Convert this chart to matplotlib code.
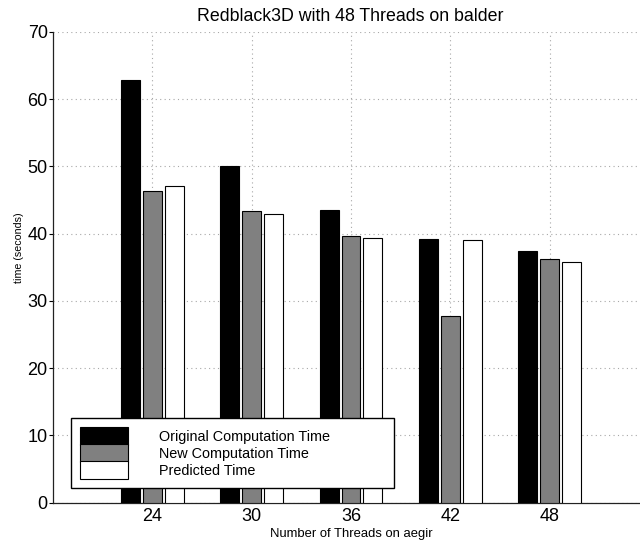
import numpy as np
import matplotlib
matplotlib.use("Agg")
import matplotlib.pyplot as plt

# data
threads = ["24", "30", "36", "42", "48"]
original_time = [62.9, 50.1, 43.5, 39.2, 37.4]
new_time = [46.3, 43.4, 39.7, 27.8, 36.2]
predicted_time = [47.1, 42.9, 39.4, 39.1, 35.8]
series_names = ["Original Computation Time", "New Computation Time", "Predicted Time"]
y_ticks = [0, 10, 20, 30, 40, 50, 60, 70]

plt.rcParams["font.family"] = ["Liberation Sans", "DejaVu Sans"]

W, H = 640, 546
fig = plt.figure(figsize=(W / 100, H / 100), dpi=100)

# axes in pixel terms (right edge runs off the figure like the original)
ax_l, ax_r, ax_t, ax_b = 53, 649, 32, 502.5
ax = fig.add_axes([ax_l / W, 1 - ax_b / H, (ax_r - ax_l) / W, (ax_b - ax_t) / H])

x = np.arange(1, len(threads) + 1)
width = 0.19
step = 0.22

ax.bar(x - step, original_time, width, color="black", edgecolor="black",
       linewidth=0.8, label=series_names[0], zorder=3)
ax.bar(x, new_time, width, color="#808080", edgecolor="black",
       linewidth=0.8, label=series_names[1], zorder=3)
ax.bar(x + step, predicted_time, width, color="white", edgecolor="black",
       linewidth=0.8, label=series_names[2], zorder=3)

ax.set_xlim(0, 6)
ax.set_ylim(0, 70)
ax.set_xticks(x)
ax.set_xticklabels(threads)
ax.set_yticks(y_ticks)

ax.tick_params(axis="x", length=0, pad=4, labelsize=13)
ax.tick_params(axis="y", direction="out", length=3, width=0.8, pad=0.8, labelsize=13)

ax.grid(True, color="#a8a8a8", linestyle=(0, (1, 3)), linewidth=0.8, zorder=0)
ax.set_axisbelow(True)

for s in ["top", "right"]:
    ax.spines[s].set_visible(False)
for s in ["left", "bottom"]:
    ax.spines[s].set_linewidth(0.9)
    ax.spines[s].set_color("#222222")

ax.set_xlabel("Number of Threads on aegir", fontsize=9.4, va="top")
ax.xaxis.set_label_coords(0.5, -0.054)
ax.set_ylabel("time (seconds)", fontsize=7.7, va="center")
ax.yaxis.set_label_coords(-0.057, 0.541)

fig.text(350.5 / W, 1 - 16.5 / H, "Redblack3D with 48 Threads on balder",
         ha="center", va="center", fontsize=12.8)

# legend box: left 71, right 394, bottom 488 (pixels); patches stacked flush
ax_w = ax_r - ax_l
ax_h = ax_b - ax_t
leg = ax.legend(loc="lower left",
                bbox_to_anchor=((71 - ax_l) / ax_w, (ax_b - 488) / ax_h,
                                (394 - 71) / ax_w, 0.15),
                mode="expand", borderaxespad=0, fontsize=10.4,
                handlelength=3.3, handleheight=1.5, handletextpad=2.2,
                labelspacing=-0.03, borderpad=0.62, fancybox=False, shadow=False,
                framealpha=1, edgecolor="black")
leg.get_frame().set_linewidth(1.0)

fig.savefig("out.png", dpi=100)
